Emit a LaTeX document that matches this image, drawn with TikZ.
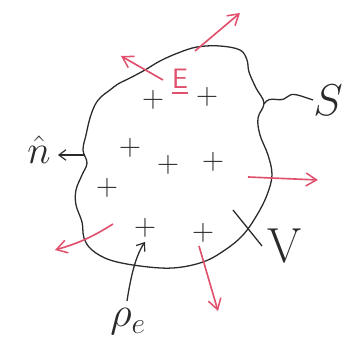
\RequirePackage{fix-cm}
\documentclass[tikz,border=0pt]{standalone}
\usepackage{amsmath}
\usetikzlibrary{arrows.meta, calc}
\definecolor{feld}{HTML}{E0506C}
\definecolor{tinte}{HTML}{2A2A2A}
\tikzset{
  rand/.style={tinte, line width=1.1pt, line join=round},
  feldpfeil/.style={-{Straight Barb[length=9pt, width=11pt, line width=1.3pt]}, feld, line width=1.4pt},
  zeiger/.style={-{Straight Barb[length=6pt, width=9pt, line width=1pt]}, tinte, line width=1.1pt},
  ladung/.style={tinte, font=\fontsize{26}{28}\selectfont, inner sep=0pt},
  gross/.style={tinte, font=\fontsize{38}{40}\selectfont, inner sep=0pt}
}
\begin{document}
\begin{tikzpicture}[x=0.03cm, y=-0.03cm]
    \useasboundingbox (0,0) rectangle (352,348);
    % Oberflaeche S um das Volumen V
    \draw[rand] plot[smooth cycle, tension=0.6] coordinates {
      (197,47) (220,46) (240,50) (247,60) (249,72) (256,88) (264,103)
      (258,118) (260,135) (268,155) (272,175) (267,195) (257,215)
      (243,235) (225,250) (203,262) (173,268) (140,266) (110,260)
      (92,250) (84,238) (82,222) (76,205) (76,190) (82,175) (87,163)
      (83,150) (86,135) (90,118) (95,105) (101,97) (110,90) (118,84)
      (130,78) (145,70) (160,61) (178,53)};
    % Punkte auf dem Rand
    \coordinate (links) at (84,155);
    \coordinate (srand) at (264,104);
    % Ladungen im Inneren
    \node[ladung] (q1) at (153,100) {$+$};
    \node[ladung] (q2) at (207,97) {$+$};
    \node[ladung] (q3) at (130,148) {$+$};
    \node[ladung] (q4) at (168,165) {$+$};
    \node[ladung] (q5) at (213,162) {$+$};
    \node[ladung] (q6) at (107,188) {$+$};
    \node[ladung] (q7) at (145,228) {$+$};
    \node[ladung] (q8) at (203,233) {$+$};
    % Feld E: Pfeile durch den Rand nach aussen
    \node[feld, font=\fontsize{24}{26}\selectfont, inner sep=1pt] (E) at (180,82) {$\underline{\mathsf{E}}$};
    \coordinate (e1a) at (195,51);  \coordinate (e1b) at (240,13);
    \coordinate (e2a) at (163,80);  \coordinate (e2b) at (121,56);
    \coordinate (e3a) at (248,177); \coordinate (e3b) at (318,180);
    \coordinate (e4a) at (113,224); \coordinate (e4b) at (55,250);
    \coordinate (e5a) at (199,246); \coordinate (e5b) at (218,311);
    \draw[feldpfeil] (e1a) -- (e1b);
    \draw[feldpfeil] (e2a) -- (e2b);
    \draw[feldpfeil] (e3a) -- (e3b);
    \draw[feldpfeil] (e4a) to[bend left=8] (e4b);
    \draw[feldpfeil] (e5a) -- (e5b);
    % Normale n
    \node[tinte, font=\fontsize{34}{36}\selectfont, inner sep=0pt] (n) at (39,150) {$\hat{n}$};
    \coordinate (nspitze) at (58,155);
    \draw[zeiger] (links) -- (nspitze);
    % Flaeche S mit Zuleitung
    \node[gross] (S) at (328,100) {$S$};
    \draw[rand] (srand) .. controls (270,94) and (280,104) .. (287,97)
      .. controls (292,92) and (298,95) .. (S.west);
    % Volumen V
    \coordinate (va) at (233,210);
    \coordinate (vb) at (262,246);
    \draw[rand] (va) -- (vb);
    \node[gross, font=\fontsize{42}{44}\selectfont] (V) at (285,246) {V};
    % Ladungsdichte rho_e
    \node[tinte, font=\fontsize{36}{38}\selectfont, inner sep=0pt] (rho) at (128,322) {$\rho_e$};
    \coordinate (rhoziel) at (145,242);
    \draw[zeiger] (127,301) .. controls (131,275) and (136,255) .. (rhoziel);
  \end{tikzpicture}
\end{document}
